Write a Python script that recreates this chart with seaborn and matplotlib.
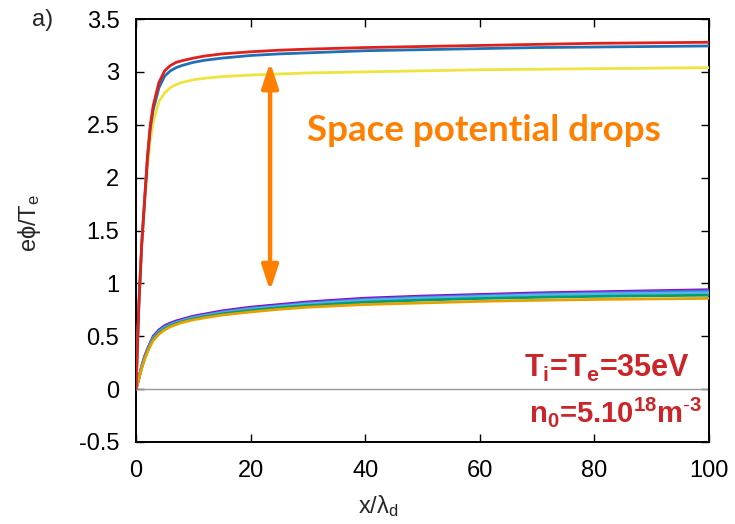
import numpy as np
import pandas as pd
import matplotlib
matplotlib.use("Agg")
import matplotlib.pyplot as plt
import seaborn as sns

# ---------------- data ----------------
x = [0, 0.5, 1, 1.5, 2, 2.5, 3, 4, 5, 6, 7, 8, 10, 12, 15, 20, 25, 30,
     40, 50, 60, 70, 80, 90, 100]

# upper group (space potential)
red_top = [0, 0.80, 1.38, 1.79, 2.20, 2.50, 2.68, 2.90, 3.01, 3.06, 3.09, 3.105,
           3.13, 3.15, 3.17, 3.19, 3.205, 3.215, 3.23, 3.24, 3.25, 3.26, 3.27,
           3.275, 3.28]
blue_top = [0, 0.80, 1.37, 1.78, 2.18, 2.47, 2.64, 2.85, 2.96, 3.01, 3.04, 3.06,
            3.09, 3.11, 3.13, 3.155, 3.17, 3.18, 3.20, 3.21, 3.22, 3.23, 3.235,
            3.24, 3.245]
yellow_top = [0, 0.78, 1.35, 1.75, 2.10, 2.35, 2.52, 2.72, 2.80, 2.85, 2.88, 2.90,
              2.925, 2.94, 2.955, 2.97, 2.98, 2.99, 3.00, 3.01, 3.02, 3.025, 3.03,
              3.035, 3.04]

# lower group
purple_low = [0, 0.11, 0.22, 0.31, 0.38, 0.44, 0.50, 0.56, 0.60, 0.625, 0.645, 0.66,
              0.69, 0.71, 0.74, 0.775, 0.80, 0.825, 0.86, 0.88, 0.895, 0.91, 0.92,
              0.93, 0.94]
blue_low = [0, 0.105, 0.215, 0.30, 0.37, 0.43, 0.49, 0.55, 0.59, 0.615, 0.635, 0.65,
            0.68, 0.70, 0.73, 0.765, 0.79, 0.815, 0.85, 0.87, 0.885, 0.90, 0.91,
            0.92, 0.93]
cyan_low = [0, 0.103, 0.21, 0.295, 0.365, 0.425, 0.48, 0.54, 0.58, 0.605, 0.628, 0.645,
            0.675, 0.695, 0.722, 0.757, 0.782, 0.805, 0.84, 0.86, 0.875, 0.89, 0.90,
            0.905, 0.912]
green_low = [0, 0.10, 0.205, 0.29, 0.36, 0.42, 0.47, 0.532, 0.57, 0.598, 0.62, 0.637,
             0.665, 0.685, 0.712, 0.745, 0.77, 0.79, 0.822, 0.842, 0.857, 0.868, 0.877,
             0.883, 0.888]
gold_low = [0, 0.10, 0.20, 0.28, 0.35, 0.41, 0.46, 0.52, 0.56, 0.59, 0.61, 0.63,
            0.655, 0.675, 0.70, 0.73, 0.755, 0.775, 0.80, 0.815, 0.83, 0.84, 0.848,
            0.853, 0.858]

series = {
    "purple_low": purple_low,
    "blue_low": blue_low,
    "cyan_low": cyan_low,
    "green_low": green_low,
    "gold_low": gold_low,
    "yellow_top": yellow_top,
    "blue_top": blue_top,
    "red_top": red_top,
}
palette = {
    "purple_low": "#9400D3",
    "blue_low": "#3A78D0",
    "cyan_low": "#56B4E9",
    "green_low": "#009E73",
    "gold_low": "#E6A000",
    "yellow_top": "#EDE440",
    "blue_top": "#1F70B5",
    "red_top": "#E0201B",
}

arrow_x = 23.4
arrow_low, arrow_high = 0.93, 3.09

xticks = [0, 20, 40, 60, 80, 100]
yticks = [-0.5, 0, 0.5, 1, 1.5, 2, 2.5, 3, 3.5]
ytick_labels = ["-0.5", "0", "0.5", "1", "1.5", "2", "2.5", "3", "3.5"]

df = pd.concat(
    [pd.DataFrame({"x": x, "phi": v, "series": k}) for k, v in series.items()],
    ignore_index=True,
)

# ---------------- style ----------------
sns.set_style("ticks")
plt.rcParams["font.family"] = ["Liberation Sans", "DejaVu Sans"]
plt.rcParams["mathtext.fontset"] = "custom"
plt.rcParams["mathtext.rm"] = "Liberation Sans"
plt.rcParams["mathtext.bf"] = "Liberation Sans:bold"
plt.rcParams["mathtext.it"] = "Liberation Sans:italic"

fig = plt.figure(figsize=(7.35, 5.24), dpi=100)
ax = fig.add_axes([136 / 735, 1 - 442 / 524, (709 - 136) / 735, (442 - 19) / 524])

ax.axhline(0, color="#9a9a9a", lw=1.0, zorder=1)

sns.lineplot(data=df, x="x", y="phi", hue="series", hue_order=list(series.keys()),
             palette=palette, linewidth=2.0, legend=False, sort=False,
             estimator=None, ax=ax, zorder=3)

ax.set_xlim(0, 100)
ax.set_ylim(-0.5, 3.5)
ax.set_xticks(xticks)
ax.set_yticks(yticks)
ax.set_yticklabels(ytick_labels)
ax.set_xlabel("")
ax.set_ylabel("")
ax.tick_params(direction="in", length=6, width=1.0, top=True, right=True,
               labelsize=17, colors="black")
ax.tick_params(axis="y", pad=12)
ax.tick_params(axis="x", pad=13)
for s in ax.spines.values():
    s.set_linewidth(1.4)
    s.set_color("black")

# double arrow
ax.annotate("", xy=(arrow_x, arrow_low), xytext=(arrow_x, arrow_high),
            arrowprops=dict(arrowstyle="<|-|>,head_length=0.6,head_width=0.2",
                            color="#FF8000", lw=3.2, mutation_scale=25,
                            shrinkA=0, shrinkB=0), zorder=4)

ax.text(60.7, 2.45, "Space potential drops", color="#FF8000", fontsize=26.5,
        fontweight="bold", family=["Lato", "DejaVu Sans"], ha="center", va="center")

red_txt = "#CC2529"
ax.text(96.7, 0.116, r"T$_\mathbf{i}$=T$_\mathbf{e}$=35eV", color=red_txt,
        fontsize=22, fontweight="bold", ha="right", va="baseline")
ax.text(98.9, -0.31, r"n$_\mathbf{0}$=5.10$^\mathbf{18}$m$^\mathbf{\text{-}3}$",
        color=red_txt, fontsize=21, fontweight="bold", ha="right", va="baseline")

fig.text(43 / 735, 1 - 20 / 524, "a)", fontsize=17, ha="center", va="center")
fig.text(30 / 735, 1 - 223 / 524, "e\u03d5/T$_\\mathrm{e}$", fontsize=17,
         rotation=90, ha="center", va="center")
fig.text(378 / 735, 1 - 506 / 524, "x/\u03bb$_\\mathrm{d}$", fontsize=17,
         ha="center", va="center")

fig.savefig("out.png", dpi=100)
